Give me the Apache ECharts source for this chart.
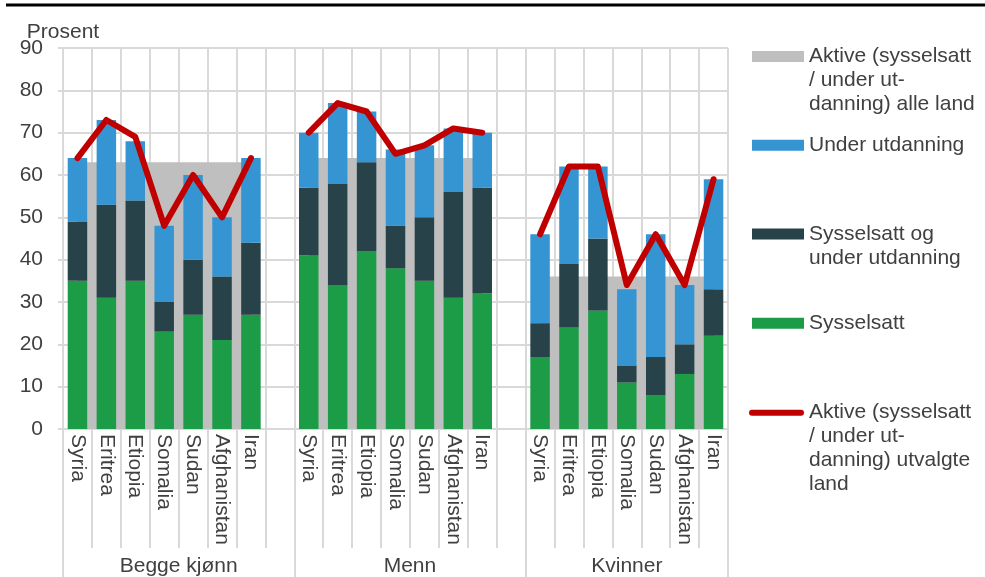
<!DOCTYPE html>
<html>
<head>
<meta charset="utf-8">
<script src="https://cdn.jsdelivr.net/npm/echarts@6/dist/echarts.min.js"></script>
<style>
html,body{margin:0;padding:0;background:#fff;}
#chart{width:985px;height:577px;}
</style>
</head>
<body>
<div id="chart"></div>
<script>
// ---- data ----
const countries = ['Syria', 'Eritrea', 'Etiopia', 'Somalia', 'Sudan', 'Afghanistan', 'Iran'];
const groups = ['Begge kjønn', 'Menn', 'Kvinner'];
const yTicks = [0, 10, 20, 30, 40, 50, 60, 70, 80, 90];

// Sysselsatt
const sysBoth  = [35, 31, 35, 23, 27, 21, 27];
const sysMen   = [41, 34, 42, 38, 35, 31, 32];
const sysWomen = [17, 24, 28, 11, 8, 13, 22];
// Sysselsatt og under utdanning
const bothStateBoth  = [14, 22, 19, 7, 13, 15, 17];
const bothStateMen   = [16, 24, 21, 10, 15, 25, 25];
const bothStateWomen = [8, 15, 17, 4, 9, 7, 11];
// Under utdanning
const eduBoth  = [15, 20, 14, 18, 20, 14, 20];
const eduMen   = [13, 19, 12, 18, 17, 15, 13];
const eduWomen = [21, 23, 17, 18, 29, 14, 26];
// Aktive alle land
const allBoth  = [63, 63, 63, 63, 63, 63, 63];
const allMen   = [64, 64, 64, 64, 64, 64, 64];
const allWomen = [36, 36, 36, 36, 36, 36, 36];
// Aktive utvalgte land
const selBoth  = [64, 73, 69, 48, 60, 50, 64];
const selMen   = [70, 77, 75, 65, 67, 71, 70];
const selWomen = [46, 62, 62, 34, 46, 34, 59];

// ---- build ----
const join3 = (a, b, c, gap) => [...a, gap, ...b, gap, ...c];
const categories = join3(countries, countries, countries, '');
const groupBounds = [0, 8, 16, 23];
const groupCenters = [4, 12, 19.5];

const FONT = "'Liberation Sans', Arial, sans-serif";
const FS = 21;
const TXT = '#404040';
const GRID = '#d9d9d9';

const names = {
  all: 'Aktive (sysselsatt\n/ under ut-\ndanning) alle land',
  edu: 'Under utdanning',
  both: 'Sysselsatt og\nunder utdanning',
  sys: 'Sysselsatt',
  sel: 'Aktive (sysselsatt\n/ under ut-\ndanning) utvalgte\nland'
};
const LH = 24;
function legendFor(name, n, iconCenter, opts) {
  const H = (2 * n - 1) * LH;
  const lead = '\n'.repeat(n - 1);
  return Object.assign({
    data: [{ name: name }],
    orient: 'vertical',
    left: 752,
    top: iconCenter - H / 2,
    padding: 0,
    selectedMode: false,
    itemWidth: 52,
    itemHeight: 11,
    itemGap: 0,
    icon: 'rect',
    formatter: function (nm) { return lead + nm; },
    textStyle: {
      fontFamily: FONT, fontSize: FS, color: TXT, lineHeight: LH,
      backgroundColor: 'rgba(255,255,255,0)'
    }
  }, opts || {});
}

const chart = echarts.init(document.getElementById('chart'), null, { renderer: 'canvas' });
chart.setOption({
  animation: false,
  backgroundColor: '#fff',
  textStyle: { fontFamily: FONT },
  graphic: [{
    type: 'line', shape: { x1: 6, y1: 5, x2: 985, y2: 5 },
    style: { stroke: '#000', lineWidth: 3 }, silent: true
  }],
  grid: { left: 63, right: 257, top: 48, bottom: 146, containLabel: false },
  legend: [
    legendFor(names.all, 3, 56.5, { itemStyle: { color: '#bfbfbf' } }),
    legendFor(names.edu, 1, 145.3, { itemStyle: { color: '#3595d3' } }),
    legendFor(names.both, 2, 234, { itemStyle: { color: '#274249' } }),
    legendFor(names.sys, 1, 323.3, { itemStyle: { color: '#1d9c48' } }),
    legendFor(names.sel, 4, 412.7, {
      left: 749, itemWidth: 55, itemHeight: 6,
      icon: 'path://M3,0 L52,0 A3,3 0 0 1 52,6 L3,6 A3,3 0 0 1 3,0 Z',
      itemStyle: { color: '#c00000', borderWidth: 0 }
    })
  ],
  xAxis: [{
    type: 'category',
    data: categories,
    boundaryGap: true,
    axisLine: { show: true, lineStyle: { color: GRID, width: 2 } },
    axisTick: { show: true, interval: 0, length: 119, lineStyle: { color: GRID, width: 2 } },
    axisLabel: { interval: 0, rotate: -90, margin: 5, fontSize: FS, color: TXT, fontFamily: FONT },
    splitLine: { show: true, interval: 0, lineStyle: { color: GRID, width: 2 } }
  }, {
    type: 'value',
    min: 0, max: 23,
    position: 'bottom',
    axisLine: { show: false },
    splitLine: { show: false },
    axisTick: { show: true, customValues: groupBounds, length: 150, lineStyle: { color: GRID, width: 2 } },
    axisLabel: {
      customValues: groupCenters, margin: 127, fontSize: FS, color: TXT, fontFamily: FONT,
      formatter: function (v) { const i = groupCenters.indexOf(v); return i >= 0 ? groups[i] : ''; }
    }
  }],
  yAxis: {
    type: 'value',
    min: yTicks[0], max: yTicks[yTicks.length - 1], interval: 10,
    name: 'Prosent',
    nameLocation: 'end',
    nameGap: 16,
    nameMoveOverlap: false,
    nameTextStyle: { fontSize: FS, color: TXT, fontFamily: FONT, align: 'center', verticalAlign: 'middle' },
    axisLine: { show: true, lineStyle: { color: GRID, width: 2 } },
    axisTick: { show: true, length: 5, lineStyle: { color: GRID, width: 2 } },
    axisLabel: { margin: 20, fontSize: FS, color: TXT, fontFamily: FONT },
    splitLine: { show: true, lineStyle: { color: GRID, width: 2 } }
  },
  series: [{
    name: names.all,
    type: 'line',
    data: join3(allBoth, allMen, allWomen, null),
    symbol: 'none',
    showSymbol: false,
    connectNulls: false,
    color: '#bfbfbf',
    lineStyle: { width: 0, opacity: 0 },
    areaStyle: { color: '#bfbfbf', opacity: 1 },
    z: 1
  }, {
    name: names.sys,
    type: 'bar', stack: 'a',
    data: join3(sysBoth, sysMen, sysWomen, null),
    barWidth: 19.5,
    itemStyle: { color: '#1d9c48' },
    z: 2
  }, {
    name: names.both,
    type: 'bar', stack: 'a',
    data: join3(bothStateBoth, bothStateMen, bothStateWomen, null),
    barWidth: 19.5,
    itemStyle: { color: '#274249' },
    z: 2
  }, {
    name: names.edu,
    type: 'bar', stack: 'a',
    data: join3(eduBoth, eduMen, eduWomen, null),
    barWidth: 19.5,
    itemStyle: { color: '#3595d3' },
    z: 2
  }, {
    name: names.sel,
    type: 'line',
    data: join3(selBoth, selMen, selWomen, null),
    symbol: 'none',
    showSymbol: false,
    connectNulls: false,
    color: '#c00000',
    lineStyle: { width: 6, color: '#c00000', cap: 'round', join: 'round' },
    z: 3
  }]
});
</script>
</body>
</html>
